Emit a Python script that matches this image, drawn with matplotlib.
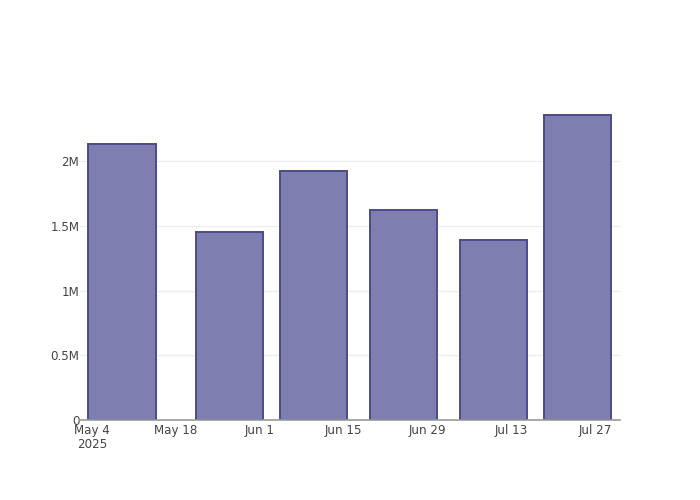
import numpy as np
import pandas as pd
import matplotlib.pyplot as plt
import matplotlib.dates as mdates

# weekly-ish totals
dates = pd.to_datetime(["2025-05-09", "2025-05-27", "2025-06-10",
                        "2025-06-25", "2025-07-10", "2025-07-24"])
values = [2.13e6, 1.455e6, 1.925e6, 1.625e6, 1.39e6, 2.355e6]

tick_dates = pd.to_datetime(["2025-05-04", "2025-05-18", "2025-06-01", "2025-06-15",
                             "2025-06-29", "2025-07-13", "2025-07-27"])
tick_labels = ["May 4\n2025", "May 18", "Jun 1", "Jun 15", "Jun 29", "Jul 13", "Jul 27"]
y_ticks = [0, 0.5e6, 1e6, 1.5e6, 2e6]
y_labels = ["0", "0.5M", "1M", "1.5M", "2M"]

fig = plt.figure(figsize=(7, 5), dpi=100)
ax = fig.add_axes([80 / 700, 80 / 500, 540 / 700, 320 / 500])

x = mdates.date2num(dates)
ax.bar(x, values, width=11.2, color="#7e7fb0", edgecolor="#4b4b8c",
       linewidth=1.4, zorder=2)

ax.set_xlim(mdates.date2num(pd.Timestamp("2025-05-02")),
            mdates.date2num(pd.Timestamp("2025-07-31 02:00")))
ax.set_ylim(0, max(values) * 1.05)

ax.set_xticks(mdates.date2num(tick_dates))
ax.set_xticklabels(tick_labels, fontsize=8.6, color="#444444",
                   linespacing=1.1, ha="center", va="top")
ax.set_yticks(y_ticks)
ax.set_yticklabels(y_labels, fontsize=8.6, color="#444444")
ax.tick_params(axis="both", length=0)
ax.tick_params(axis="x", pad=3)
ax.tick_params(axis="y", pad=0.5)

ax.grid(axis="y", color="#eeeeee", linewidth=1, zorder=0)
for s in ["top", "right", "left"]:
    ax.spines[s].set_visible(False)
ax.spines["bottom"].set_color("#999999")
ax.spines["bottom"].set_linewidth(1.2)
ax.spines["bottom"].set_zorder(3)

fig.savefig("out.png", dpi=100)
